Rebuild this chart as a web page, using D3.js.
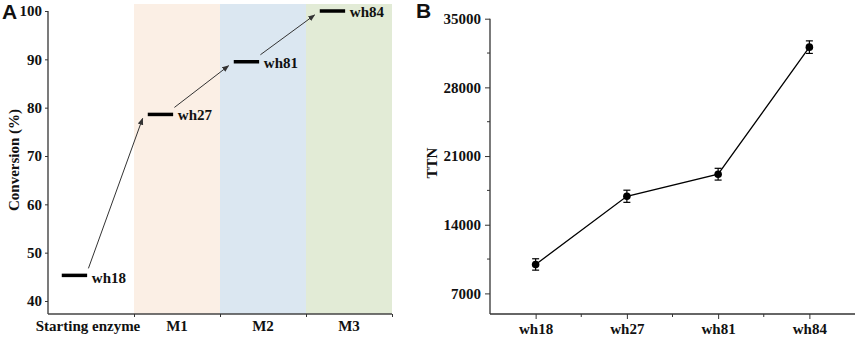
<!DOCTYPE html>
<html>
<head>
<meta charset="utf-8">
<script src="https://cdn.jsdelivr.net/npm/d3@7"></script>
<style>
  body { margin: 0; background: #fff; }
  svg text { font-family: "Liberation Serif", "Times New Roman", serif; font-weight: bold; fill: #111; }
  .panel-tag { font-family: "Liberation Sans", Arial, sans-serif; font-size: 21px; }
</style>
</head>
<body>
<svg id="chart" width="858" height="338"></svg>
<script>
// panel A - conversion per round
const stages      = ["Starting enzyme", "M1", "M2", "M3"];
const enzymes     = ["wh18", "wh27", "wh81", "wh84"];
const conversion  = [45.3, 78.6, 89.5, 100];
const convTicks   = [40, 50, 60, 70, 80, 90, 100];
const stageColors = [null, "#fbefe5", "#dbe7f1", "#e2ebd6"];

// panel B - TTN
const ttn         = [9950, 16900, 19150, 32100];
const ttnErr      = [580, 620, 600, 640];
const ttnTicks    = [7000, 14000, 21000, 28000, 35000];
const ttnMinor    = [10500, 17500, 24500, 31500];

const svg = d3.select("#chart");

// ---------- A ----------
const xA = d3.scaleLinear().domain([0, 4]).range([48, 392]);
const yA = d3.scaleLinear().domain([40, 100]).range([301, 11]);
const baseA = 314;

const gA = svg.append("g");

gA.selectAll("rect.band")
  .data(stages.map((s, i) => ({ s, i })).filter(d => stageColors[d.i]))
  .enter().append("rect")
  .attr("x", d => xA(d.i))
  .attr("width", d => xA(d.i + 1) - xA(d.i))
  .attr("y", 4)
  .attr("height", baseA - 4)
  .attr("fill", d => stageColors[d.i]);

// y axis
const axA = gA.append("g")
  .attr("transform", `translate(${xA(0)},0)`)
  .call(d3.axisLeft(yA).tickValues(convTicks).tickSize(3).tickPadding(3));
axA.select(".domain").attr("d", `M0,${yA(100)}V${baseA}`).attr("stroke", "#333").attr("stroke-width", 1.3);
axA.selectAll(".tick line").attr("stroke", "#333");
axA.selectAll("text").attr("font-size", 15).attr("fill", "#111")
  .attr("font-family", "Liberation Serif").attr("font-weight", "bold");

// x axis
const axAx = gA.append("g")
  .attr("transform", `translate(0,${baseA})`)
  .call(d3.axisBottom(xA).tickValues([1, 2, 3, 4]).tickSize(3).tickFormat(""));
axAx.select(".domain").attr("d", `M${xA(0)},0H${xA(4)}`).attr("stroke", "#444").attr("stroke-width", 1.3);
axAx.selectAll(".tick line").attr("stroke", "#333");

gA.selectAll("text.stage")
  .data(stages)
  .enter().append("text")
  .attr("class", "stage")
  .attr("x", (d, i) => xA(i + 0.5) - (i === 0 ? 3 : 0))
  .attr("y", 331)
  .attr("text-anchor", "middle")
  .attr("font-size", 15)
  .text(d => d);

// arrows
const defs = svg.append("defs");
defs.append("marker")
  .attr("id", "arr")
  .attr("viewBox", "0 0 10 10")
  .attr("refX", 9).attr("refY", 5)
  .attr("markerWidth", 7).attr("markerHeight", 7)
  .attr("orient", "auto")
  .append("path").attr("d", "M0,1L10,5L0,9Z").attr("fill", "#333");

gA.selectAll("line.arrow")
  .data(conversion.slice(0, -1))
  .enter().append("line")
  .attr("x1", (d, i) => xA(i + 0.47))
  .attr("y1", d => yA(d) - 7)
  .attr("x2", (d, i) => xA(i + 1.1))
  .attr("y2", (d, i) => yA(conversion[i + 1]) + 4)
  .attr("stroke", "#333")
  .attr("stroke-width", 1)
  .attr("marker-end", "url(#arr)");

// level bars
gA.selectAll("line.level")
  .data(conversion)
  .enter().append("line")
  .attr("x1", (d, i) => xA(i + 0.16))
  .attr("x2", (d, i) => xA(i + 0.455))
  .attr("y1", d => yA(d))
  .attr("y2", d => yA(d))
  .attr("stroke", "#000")
  .attr("stroke-width", 3.5);

gA.selectAll("text.enz")
  .data(conversion)
  .enter().append("text")
  .attr("x", (d, i) => xA(i + 0.51))
  .attr("y", (d, i) => yA(d) + (i === 0 ? 8 : 6))
  .attr("font-size", 15)
  .text((d, i) => enzymes[i]);

gA.append("text")
  .attr("transform", "translate(19,160) rotate(-90)")
  .attr("text-anchor", "middle")
  .attr("font-size", 15)
  .text("Conversion (%)");

svg.append("text").attr("class", "panel-tag").attr("x", 2).attr("y", 19).text("A");

// ---------- B ----------
const xB = d3.scaleLinear().domain([0.5, 4.5]).range([490, 855]);
const yB = d3.scaleLinear().domain([4900, 35000]).range([314, 18.7]);
const gB = svg.append("g");

const axB = gB.append("g")
  .attr("transform", `translate(${xB(0.5)},0)`)
  .call(d3.axisLeft(yB).tickValues(ttnTicks).tickSize(5).tickPadding(4).tickFormat(d3.format("d")));
axB.select(".domain").attr("d", `M0,${yB(35000)}V${yB(4900)}`).attr("stroke", "#333").attr("stroke-width", 1.3);
axB.selectAll(".tick line").attr("stroke", "#333");
axB.selectAll("text").attr("font-size", 15).attr("fill", "#111")
  .attr("font-family", "Liberation Serif").attr("font-weight", "bold");

gB.selectAll("line.yminor")
  .data(ttnMinor)
  .enter().append("line")
  .attr("x1", xB(0.5) - 3).attr("x2", xB(0.5))
  .attr("y1", d => yB(d)).attr("y2", d => yB(d))
  .attr("stroke", "#333");

const axBx = gB.append("g")
  .attr("transform", `translate(0,${yB(4900)})`)
  .call(d3.axisBottom(xB).tickValues([1, 2, 3, 4]).tickSize(5).tickPadding(4)
    .tickFormat(d => enzymes[d - 1]));
axBx.select(".domain").attr("d", `M${xB(0.5)},0H${xB(4.5)}`).attr("stroke", "#333").attr("stroke-width", 1.3);
axBx.selectAll(".tick line").attr("stroke", "#333");
axBx.selectAll("text").attr("font-size", 15).attr("fill", "#111")
  .attr("font-family", "Liberation Serif").attr("font-weight", "bold");

gB.selectAll("line.xminor")
  .data([1.5, 2.5, 3.5])
  .enter().append("line")
  .attr("x1", d => xB(d)).attr("x2", d => xB(d))
  .attr("y1", yB(4900)).attr("y2", yB(4900) + 3)
  .attr("stroke", "#333");

const pts = ttn.map((v, i) => ({ x: i + 1, v, e: ttnErr[i] }));

gB.append("path")
  .datum(pts)
  .attr("fill", "none")
  .attr("stroke", "#000")
  .attr("stroke-width", 1.3)
  .attr("d", d3.line().x(d => xB(d.x)).y(d => yB(d.v)));

const eb = gB.selectAll("g.err").data(pts).enter().append("g").attr("stroke", "#000").attr("stroke-width", 1.2);
eb.append("line")
  .attr("x1", d => xB(d.x)).attr("x2", d => xB(d.x))
  .attr("y1", d => yB(d.v - d.e)).attr("y2", d => yB(d.v + d.e));
eb.append("line")
  .attr("x1", d => xB(d.x) - 3.5).attr("x2", d => xB(d.x) + 3.5)
  .attr("y1", d => yB(d.v + d.e)).attr("y2", d => yB(d.v + d.e));
eb.append("line")
  .attr("x1", d => xB(d.x) - 3.5).attr("x2", d => xB(d.x) + 3.5)
  .attr("y1", d => yB(d.v - d.e)).attr("y2", d => yB(d.v - d.e));

gB.selectAll("circle")
  .data(pts)
  .enter().append("circle")
  .attr("cx", d => xB(d.x))
  .attr("cy", d => yB(d.v))
  .attr("r", 3.8)
  .attr("fill", "#000");

gB.append("text")
  .attr("transform", "translate(437,163) rotate(-90)")
  .attr("text-anchor", "middle")
  .attr("font-size", 15)
  .text("TTN");

svg.append("text").attr("class", "panel-tag").attr("x", 416).attr("y", 18).text("B");
</script>
</body>
</html>
